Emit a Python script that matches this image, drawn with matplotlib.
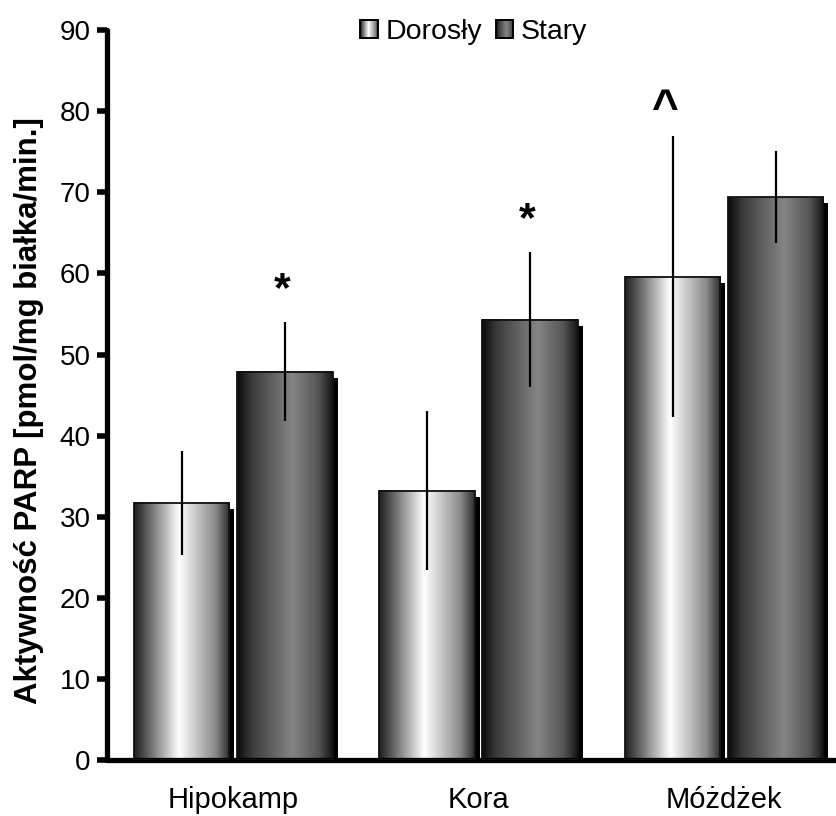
import numpy as np
import matplotlib
matplotlib.use("Agg")
from matplotlib import pyplot as plt
from matplotlib.colors import LinearSegmentedColormap
from matplotlib.legend_handler import HandlerBase
from matplotlib.image import BboxImage
from matplotlib.transforms import Bbox, TransformedBbox, offset_copy
from matplotlib.patches import Rectangle

categories = ["Hipokamp", "Kora", "Móżdżek"]
series = ["Dorosły", "Stary"]
adult = [31.7, 33.2, 59.6]
adult_err = [6.4, 9.8, 17.3]
old = [47.9, 54.3, 69.4]
old_err = [6.1, 8.3, 5.7]
adult_marks = ["", "", "^"]
old_marks = ["*", "*", ""]

plt.rcParams["font.family"] = ["Liberation Sans", "DejaVu Sans"]

cmap_adult = LinearSegmentedColormap.from_list(
    "adult", [(0, "#1e1e1e"), (0.12, "#555555"), (0.47, "#ffffff"),
              (0.85, "#8a8a8a"), (1, "#2a2a2a")])
cmap_old = LinearSegmentedColormap.from_list(
    "old", [(0, "#0a0a0a"), (0.15, "#3a3a3a"), (0.58, "#858585"),
            (0.85, "#555555"), (1, "#141414")])
grad = np.linspace(0, 1, 256)[None, :]


class GradientHandler(HandlerBase):
    def __init__(self, cmap):
        super().__init__()
        self.cmap = cmap

    def create_artists(self, legend, orig_handle, xdescent, ydescent,
                       width, height, fontsize, trans):
        size = min(width, height)
        x0 = -xdescent + (width - size) / 2
        y0 = -ydescent + (height - size) / 2
        bb = TransformedBbox(Bbox.from_bounds(x0, y0, size, size), trans)
        img = BboxImage(bb, cmap=self.cmap, interpolation="bilinear")
        img.set_data(grad)
        frame = Rectangle((x0, y0), size, size, facecolor="none",
                          edgecolor="black", lw=1.4, transform=trans)
        return [img, frame]


fig = plt.figure(figsize=(8.37, 8.16), dpi=100)
ax = fig.add_axes([0.128, 0.0686, 0.872, 0.8944])

x = np.arange(len(categories))
w = 0.39
off = 0.21
shadow = offset_copy(ax.transData, fig=fig, x=5, y=-6, units="dots")

for vals, errs, marks, cmap, sign in [
        (adult, adult_err, adult_marks, cmap_adult, -1),
        (old, old_err, old_marks, cmap_old, 1)]:
    pos = x + sign * off
    ax.bar(pos, vals, w, color="black", transform=shadow, zorder=1)
    bars = ax.bar(pos, vals, w, facecolor="none", edgecolor="#111111",
                  linewidth=1.3, zorder=3)
    for b in bars:
        x0, y0 = b.get_x(), b.get_y()
        ax.imshow(grad, cmap=cmap, aspect="auto", interpolation="bilinear",
                  extent=[x0, x0 + b.get_width(), y0, y0 + b.get_height()],
                  zorder=2)
    ax.errorbar(pos, vals, yerr=errs, fmt="none", ecolor="black",
                elinewidth=1.6, capsize=0, zorder=4)
    for p, v, e, m in zip(pos, vals, errs, marks):
        if m == "*":
            ax.text(p - 0.01, v + e + 4.0, m, ha="center", va="center",
                    fontsize=31, fontweight="bold")
        elif m == "^":
            ax.text(p - 0.03, v + e + 0.6, m, ha="center", va="bottom",
                    fontsize=33, fontweight="bold")

ax.set_xlim(-0.513, 2.46)
ax.set_ylim(0, 90)
ax.set_yticks(np.arange(0, 91, 10))
ax.set_xticks(x)
ax.set_xticklabels(categories, fontsize=21)
ax.tick_params(axis="y", labelsize=20, length=7, width=4, pad=5)
ax.tick_params(axis="x", length=0, pad=19)
for side in ["top", "right"]:
    ax.spines[side].set_visible(False)
for side in ["left", "bottom"]:
    ax.spines[side].set_linewidth(3.8)
    ax.spines[side].set_capstyle("round")
ax.set_ylabel("Aktywność PARP [pmol/mg białka/min.]", fontsize=22.5,
              fontweight="bold")
ax.yaxis.set_label_coords(-0.087, 0.479)

h1 = Rectangle((0, 0), 1, 1)
h2 = Rectangle((0, 0), 1, 1)
fig.legend([h1, h2], series, loc="center",
           bbox_to_anchor=(474 / 837, 1 - 32 / 816), ncol=2, frameon=False,
           fontsize=20.5, handlelength=0.6, handleheight=0.6,
           handletextpad=0.3, columnspacing=0.45,
           handler_map={h1: GradientHandler(cmap_adult),
                        h2: GradientHandler(cmap_old)})

plt.savefig("out.png", dpi=100)
